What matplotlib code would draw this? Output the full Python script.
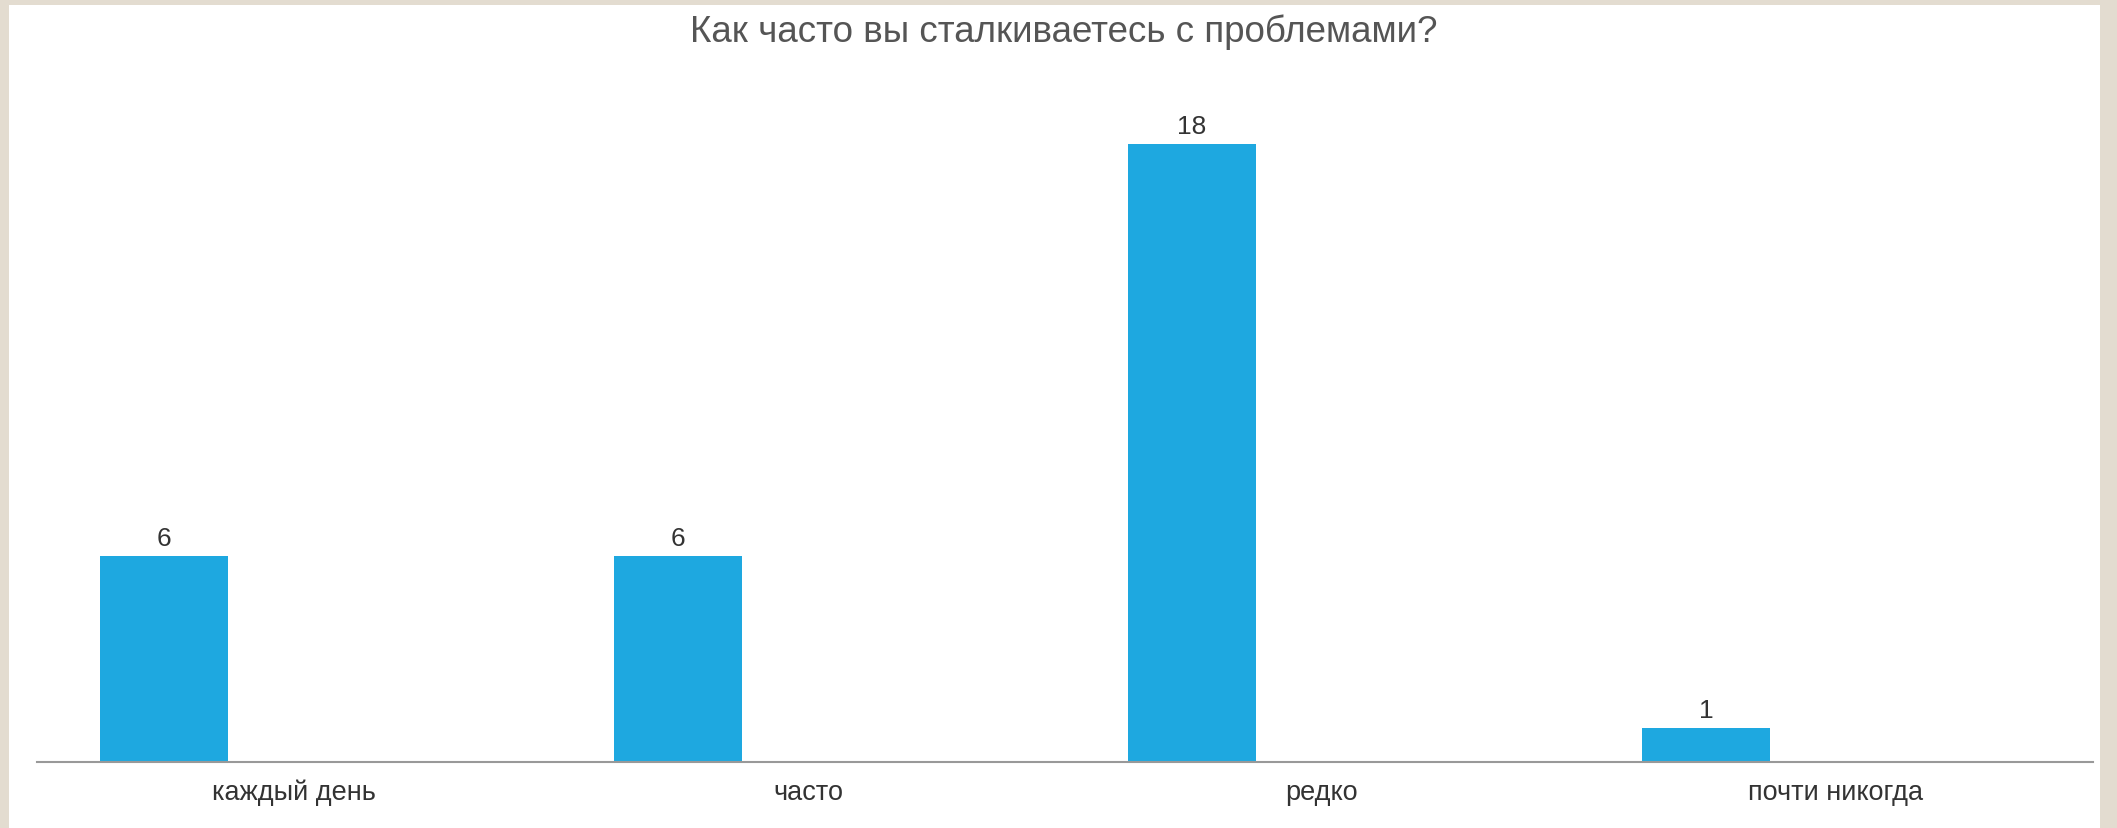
import matplotlib.pyplot as plt
import numpy as np

categories = ["каждый день", "часто", "редко", "почти никогда"]
counts = [6, 6, 18, 1]
title = "Как часто вы сталкиваетесь с проблемами?"

plt.rcParams['font.family'] = ['Liberation Sans', 'DejaVu Sans']

W, H = 2117, 829
fig = plt.figure(figsize=(W / 100, H / 100), dpi=100, facecolor='#e3dcd0')

# white panel inside the beige frame
panel = fig.add_axes([9 / W, 0, (2100 - 9) / W, (H - 6) / H])
panel.set_facecolor('white')
panel.set_xticks([])
panel.set_yticks([])
for s in panel.spines.values():
    s.set_visible(False)

ax = fig.add_axes([37 / W, (H - 763) / H, (2093 - 37) / W, (763 - 100) / H])
ax.patch.set_alpha(0)

x = np.arange(len(categories))
bars = ax.bar(x - 0.253, counts, width=0.25, color='#1ea8e0', zorder=2)
for b, v in zip(bars, counts):
    ax.annotate(str(v), (b.get_x() + b.get_width() / 2, v), xytext=(0, 4),
                textcoords='offset points', ha='center', va='bottom',
                fontsize=19, color='#333333')

ax.set_xlim(-0.5, len(categories) - 0.5)
ax.set_ylim(0, 19.31)
ax.set_yticks([])
ax.set_xticks(x)
ax.set_xticklabels(categories, fontsize=19.5, color='#333333')
ax.tick_params(axis='x', length=0, pad=12)
for side in ['left', 'right', 'top']:
    ax.spines[side].set_visible(False)
ax.spines['bottom'].set_color('#999999')
ax.spines['bottom'].set_linewidth(1.5)

fig.text(1064 / W, 1 - 42 / H, title, ha='center', va='baseline',
         fontsize=26.5, color='#555555')

fig.savefig('out.png', dpi=100, facecolor=fig.get_facecolor())
